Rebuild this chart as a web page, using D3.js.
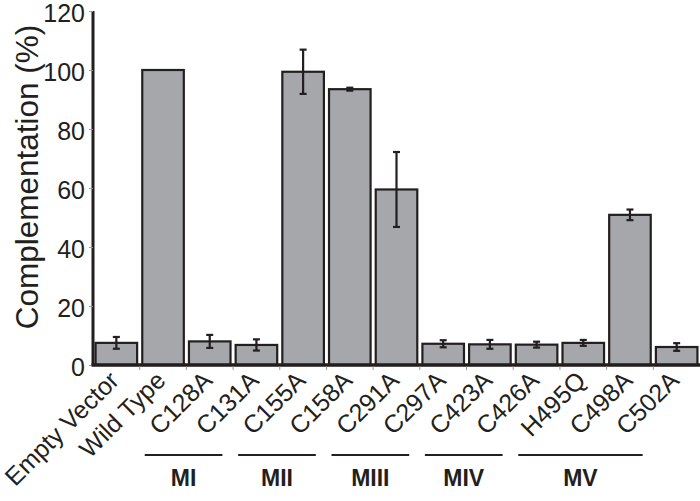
<!DOCTYPE html>
<html>
<head>
<meta charset="utf-8">
<script src="https://cdn.jsdelivr.net/npm/d3@7"></script>
<style>
  html, body { margin: 0; padding: 0; background: #fff; }
  svg { display: block; }
  text { font-family: "Liberation Sans", Arial, Helvetica, sans-serif; fill: #231f20; }
</style>
</head>
<body>
<svg id="chart" width="700" height="501"></svg>
<script>
const categories = ["Empty Vector", "Wild Type", "C128A", "C131A", "C155A", "C158A", "C291A", "C297A", "C423A", "C426A", "H495Q", "C498A", "C502A"];
const values = [7.5, 100, 8.0, 6.8, 99.4, 93.5, 59.5, 7.2, 7.0, 6.9, 7.5, 50.9, 6.1];
const errors = [2.0, null, 2.2, 1.9, 7.5, 0.5, 12.7, 1.2, 1.5, 1.0, 1.0, 1.8, 1.3];
const yTicks = [0, 20, 40, 60, 80, 100, 120];
const groupNames = ["MI", "MII", "MIII", "MIV", "MV"];
const groupFirst = ["C128A", "C155A", "C291A", "C423A", "H495Q"];
const groupLast = ["C131A", "C158A", "C297A", "C426A", "C502A"];
const yTitle = "Complementation (%)";

const svg = d3.select("#chart");
const ink = "#231f20";
const barFill = "#a6a7ab";

const x = d3.scaleBand().domain(categories).range([93, 700]).paddingInner(0.11).paddingOuter(0.055);
const y = d3.scaleLinear().domain([0, 120]).range([365, 11]);

// Y axis
const yAxis = svg.append("g").attr("transform", "translate(93,0)")
  .call(d3.axisLeft(y).tickValues(yTicks).tickSize(4).tickPadding(4));
yAxis.select(".domain").attr("stroke", ink).attr("stroke-width", 3).attr("d", `M0,${y(120)}V${y(0)+1}`);
yAxis.selectAll(".tick line").attr("stroke", "#999").attr("stroke-width", 1);
yAxis.selectAll(".tick text").attr("font-size", 25).attr("fill", ink)
  .attr("font-family", '"Liberation Sans", Arial, sans-serif').attr("dy", "0.42em");

// Y title
svg.append("text").attr("transform", `translate(38,${(y(120)+y(0))/2 - 11}) rotate(-90)`)
  .attr("text-anchor", "middle").attr("font-size", 31.5).text(yTitle);

// Bars
const data = categories.map((c, i) => ({c, v: values[i], e: errors[i]}));
svg.append("g").selectAll("rect").data(data).join("rect")
  .attr("x", d => x(d.c)).attr("width", x.bandwidth())
  .attr("y", d => y(d.v)).attr("height", d => y(0) - y(d.v))
  .attr("fill", barFill).attr("stroke", ink).attr("stroke-width", 2.2);

// Error bars
const eb = svg.append("g").attr("stroke", ink).attr("stroke-width", 2.2);
data.filter(d => d.e != null).forEach(d => {
  const cx = x(d.c) + x.bandwidth() / 2;
  const cw = 3.5;
  eb.append("line").attr("x1", cx).attr("x2", cx).attr("y1", y(d.v + d.e)).attr("y2", y(d.v - d.e));
  eb.append("line").attr("x1", cx - cw).attr("x2", cx + cw).attr("y1", y(d.v + d.e)).attr("y2", y(d.v + d.e));
  eb.append("line").attr("x1", cx - cw).attr("x2", cx + cw).attr("y1", y(d.v - d.e)).attr("y2", y(d.v - d.e));
});

// X axis
svg.append("line").attr("x1", 91.5).attr("x2", 700).attr("y1", y(0)).attr("y2", y(0))
  .attr("stroke", ink).attr("stroke-width", 3.5);
const step = x.step();
const xt = svg.append("g").attr("stroke", "#999").attr("stroke-width", 1);
categories.slice(1).forEach(c => {
  const bx = x(c) - (step - x.bandwidth()) / 2;
  xt.append("line").attr("x1", bx).attr("x2", bx).attr("y1", y(0) + 1.5).attr("y2", y(0) + 5);
});

// X labels
svg.append("g").selectAll("text").data(categories).join("text")
  .attr("transform", d => `translate(${x(d) + x.bandwidth()/2 + 4},${y(0) + 17}) rotate(-45)`)
  .attr("text-anchor", "end").attr("font-size", 25).text(d => d);

// Groups
const gg = svg.append("g");
groupNames.forEach((g, i) => {
  const x1 = x(groupFirst[i]) + x.bandwidth()/2 - 65;
  const x2 = x(groupLast[i]) + x.bandwidth()/2 - 34;
  gg.append("line").attr("x1", x1).attr("x2", x2).attr("y1", 455).attr("y2", 455)
    .attr("stroke", ink).attr("stroke-width", 2);
  gg.append("text").attr("x", (x1 + x2) / 2).attr("y", 486).attr("text-anchor", "middle")
    .attr("font-size", 23).attr("font-weight", "bold").text(g);
});
</script>
</body>
</html>
